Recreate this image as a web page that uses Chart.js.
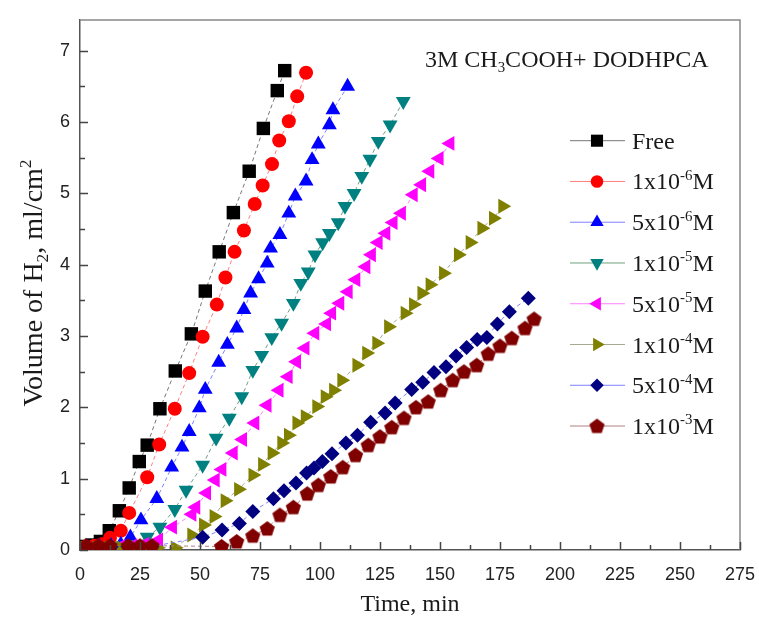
<!DOCTYPE html>
<html>
<head>
<meta charset="utf-8">
<script src="https://cdn.jsdelivr.net/npm/chart.js@4.4.0/dist/chart.umd.min.js"></script>
<style>
  html, body { margin: 0; padding: 0; background: #fff; }
  #wrap { width: 759px; height: 621px; }
</style>
</head>
<body>
<div id="wrap"><canvas id="h2Chart" width="759" height="621"></canvas></div>
<script>
// hydrogen evolution: time (min) vs H2 volume (ml/cm2) per inhibitor concentration
const tFree = [2, 5, 8.5, 12.2, 16.4, 20.5, 24.7, 28, 33.3, 39.7, 46.4, 52.2, 58, 63.9, 70.5, 76.4, 82.2, 85.3];
const vFree = [0.05, 0.07, 0.12, 0.27, 0.55, 0.87, 1.24, 1.47, 1.98, 2.51, 3.03, 3.63, 4.18, 4.73, 5.31, 5.91, 6.44, 6.72];

const t1e6 = [2, 6, 9, 12.5, 17, 20.5, 28, 33, 39.5, 45.5, 51.1, 57, 60.6, 64.4, 68.3, 72.8, 76.1, 80, 83, 87, 90.5, 94.2];
const v1e6 = [0.04, 0.06, 0.08, 0.17, 0.27, 0.52, 1.02, 1.48, 1.98, 2.48, 2.99, 3.44, 3.82, 4.18, 4.48, 4.85, 5.11, 5.41, 5.74, 6.01, 6.36, 6.69];

const t5e6 = [3, 8, 13, 17, 21, 25.4, 32, 38.2, 42.5, 45.5, 49.7, 52.2, 57.8, 61.4, 65.3, 68.3, 71.1, 74.4, 78, 79.4, 83.3, 87, 89.7, 94.2, 96.7, 99.3, 103.9, 105.4, 111.5];
const v5e6 = [0.03, 0.05, 0.06, 0.08, 0.18, 0.42, 0.72, 1.16, 1.44, 1.66, 1.99, 2.25, 2.63, 2.88, 3.11, 3.37, 3.6, 3.8, 4.02, 4.23, 4.42, 4.72, 4.96, 5.17, 5.47, 5.69, 5.96, 6.17, 6.5];

const t1e5 = [3, 8, 13, 18, 23, 28, 33.3, 39.5, 44.2, 51.1, 56.7, 62.2, 67.4, 72, 75.7, 79.9, 84, 88.9, 92, 95.1, 97.9, 101.1, 103.9, 107.6, 110.4, 114.2, 117.4, 120.8, 124.3, 129.2, 134.7];
const v1e5 = [0.03, 0.04, 0.05, 0.06, 0.08, 0.18, 0.32, 0.57, 0.84, 1.19, 1.57, 1.85, 2.15, 2.52, 2.73, 2.98, 3.18, 3.46, 3.74, 3.9, 4.14, 4.31, 4.44, 4.59, 4.82, 5.0, 5.24, 5.48, 5.73, 5.96, 6.29];

const t5e5 = [2, 7, 12, 17, 22, 27, 32.8, 38.6, 46.7, 48.3, 52.8, 56.4, 59.2, 63.9, 67.8, 72.9, 78, 83, 86.8, 90.3, 93.8, 97.9, 102.8, 104.9, 108.3, 111.8, 115, 119.2, 121.5, 124.3, 127.5, 130.5, 134, 138.9, 142.4, 145.8, 149.7, 154.2];
const v5e5 = [0.04, 0.04, 0.05, 0.05, 0.06, 0.08, 0.14, 0.32, 0.5, 0.6, 0.8, 0.98, 1.13, 1.36, 1.55, 1.78, 2.03, 2.24, 2.43, 2.64, 2.83, 3.04, 3.17, 3.32, 3.46, 3.62, 3.79, 3.97, 4.14, 4.31, 4.44, 4.59, 4.72, 4.98, 5.12, 5.31, 5.49, 5.7];

const t1e4 = [2, 7, 12, 17, 22, 27, 32, 39.6, 46.5, 51.4, 55.8, 60.4, 66, 72, 76, 80, 84, 86.8, 90.3, 93.8, 98.6, 102.1, 105.6, 109, 115.3, 119.4, 123.6, 128.5, 135.4, 138.9, 142.4, 145.8, 151.4, 157.6, 162.5, 167.4, 172.2, 176.1];
const v1e4 = [0.03, 0.03, 0.03, 0.03, 0.03, 0.03, 0.03, 0.03, 0.21, 0.35, 0.47, 0.69, 0.85, 1.05, 1.2, 1.36, 1.5, 1.61, 1.78, 1.87, 2.01, 2.15, 2.24, 2.38, 2.59, 2.76, 2.9, 3.13, 3.32, 3.44, 3.6, 3.72, 3.88, 4.14, 4.31, 4.51, 4.65, 4.82];

const t5e4 = [3, 8, 13, 20, 25, 30, 51.1, 59.2, 66.4, 72, 80.6, 85, 90, 94.4, 97.5, 101, 105, 110.8, 115.6, 121.1, 127.1, 131.3, 138.2, 142.8, 147.5, 152.5, 156.7, 161.1, 165.5, 169.5, 173.9, 178.9, 186.8];
const v5e4 = [0.05, 0.05, 0.05, 0.05, 0.05, 0.05, 0.18, 0.28, 0.37, 0.54, 0.72, 0.83, 0.94, 1.08, 1.15, 1.24, 1.35, 1.5, 1.61, 1.79, 1.92, 2.06, 2.25, 2.35, 2.49, 2.57, 2.72, 2.84, 2.95, 2.98, 3.17, 3.34, 3.53];

const t1e3 = [2.5, 7.6, 12.5, 20.1, 25, 30, 59, 65.3, 72, 78, 83.3, 88.9, 94.7, 99.3, 104.5, 109.5, 114.8, 120.1, 125, 129.9, 135, 140, 145.1, 150.3, 155.3, 160, 165.3, 170.1, 175, 179.9, 185.4, 189.2];
const v1e3 = [0.06, 0.06, 0.06, 0.06, 0.06, 0.06, 0.05, 0.12, 0.2, 0.3, 0.49, 0.6, 0.79, 0.91, 1.03, 1.16, 1.33, 1.47, 1.59, 1.72, 1.85, 2.0, 2.08, 2.24, 2.38, 2.5, 2.59, 2.75, 2.86, 2.97, 3.11, 3.24];

const seriesLabels = ['Free', '1x10^{-6}M', '5x10^{-6}M', '1x10^{-5}M', '5x10^{-5}M', '1x10^{-4}M', '5x10^{-4}M', '1x10^{-3}M'];
const xTicks = [0, 25, 50, 75, 100, 125, 150, 175, 200, 225, 250, 275];
const yTicks = [0, 1, 2, 3, 4, 5, 6, 7];
const plotTitle = '3M CH_{3}COOH+ DODHPCA';
const yTitle = 'Volume of H_{2}, ml/cm^{2}';

const SERIF = '"Liberation Serif", "Times New Roman", serif';

// pentagon marker, drawn once on a small canvas
function pentagonMarker(color) {
  const c = document.createElement('canvas');
  c.width = 17; c.height = 17;
  const g = c.getContext('2d');
  g.fillStyle = color;
  g.beginPath();
  for (let k = 0; k < 5; k++) {
    const a = -Math.PI / 2 + k * 2 * Math.PI / 5;
    const px = 8.5 + 8 * Math.cos(a), py = 9.1 + 8 * Math.sin(a);
    if (k === 0) g.moveTo(px, py); else g.lineTo(px, py);
  }
  g.closePath();
  g.fill();
  return c;
}

function series(xs, ys, color, lineColor, style, radius, rotation, order) {
  return {
    data: xs.map((t, i) => ({ x: t, y: ys[i] })),
    showLine: true,
    borderColor: lineColor,
    borderWidth: 1,
    borderDash: [4, 3],
    backgroundColor: color,
    pointBackgroundColor: color,
    pointBorderColor: color,
    pointBorderWidth: 0,
    pointStyle: style,
    pointRadius: radius,
    pointRotation: rotation,
    order: order
  };
}

const datasets = [
  series(tFree, vFree, '#000000', '#777777', 'rect', 9.5, 0, 8),
  series(t1e6, v1e6, '#ff0000', '#ff8080', 'circle', 7, 0, 7),
  series(t5e6, v5e6, '#0000ff', '#8080ff', 'triangle', 8.6, 0, 6),
  series(t1e5, v1e5, '#008080', '#70a080', 'triangle', 8.6, 180, 5),
  series(t5e5, v5e5, '#ff00ff', '#ff80ff', 'triangle', 8.6, -90, 4),
  series(t1e4, v1e4, '#808000', '#a8a890', 'triangle', 8.6, 90, 3),
  series(t5e4, v5e4, '#000080', '#8080ff', 'rectRot', 7.5, 0, 2),
  series(t1e3, v1e3, '#800000', '#b08080', pentagonMarker('#800000'), 7.5, 0, 1)
];

// text with _{sub} and ^{sup} pieces
function drawRich(ctx, text, x, y, size, measureOnly) {
  const parts = text.split(/([_^]\{[^}]*\})/);
  let cx = x;
  parts.forEach(p => {
    if (!p) return;
    let s = size, dy = 0, str = p;
    if (p[0] === '^') { s = size * 0.62; dy = -size * 0.4; str = p.slice(2, -1); }
    else if (p[0] === '_') { s = size * 0.62; dy = size * 0.22; str = p.slice(2, -1); }
    ctx.font = s + 'px ' + SERIF;
    if (!measureOnly) ctx.fillText(str, cx, y + dy);
    cx += ctx.measureText(str).width;
  });
  return cx - x;
}

const decorations = {
  id: 'decorations',
  afterDraw(chart) {
    const ctx = chart.ctx;
    const area = chart.chartArea;
    const xs = chart.scales.x, ys = chart.scales.y;
    ctx.save();

    // frame on top and right
    ctx.strokeStyle = '#888';
    ctx.lineWidth = 1.5;
    ctx.beginPath();
    ctx.moveTo(area.left, area.top);
    ctx.lineTo(area.right, area.top);
    ctx.lineTo(area.right, area.bottom);
    ctx.stroke();

    // inward tick marks, minor ones halfway
    ctx.strokeStyle = '#444';
    ctx.lineWidth = 1.5;
    ctx.beginPath();
    for (let v = 0; v <= 275; v += 12.5) {
      const px = Math.round(xs.getPixelForValue(v)) + 0.5;
      const len = v % 25 === 0 ? 8 : 5;
      ctx.moveTo(px, area.bottom);
      ctx.lineTo(px, area.bottom - len);
    }
    for (let v = 0; v <= 7; v += 0.5) {
      const py = Math.round(ys.getPixelForValue(v)) + 0.5;
      const len = v % 1 === 0 ? 8 : 5;
      ctx.moveTo(area.left, py);
      ctx.lineTo(area.left + len, py);
    }
    ctx.stroke();

    ctx.fillStyle = '#1a1a1a';
    ctx.textBaseline = 'alphabetic';
    ctx.textAlign = 'left';

    // plot title
    drawRich(ctx, plotTitle, 425, 67, 24);

    // y axis title, rotated
    const w = drawRich(ctx, yTitle, 0, 0, 28, true);
    ctx.save();
    ctx.translate(42, (area.top + area.bottom) / 2 - 2 + w / 2);
    ctx.rotate(-Math.PI / 2);
    drawRich(ctx, yTitle, 0, 0, 28);
    ctx.restore();

    // legend: line, marker, label
    chart.data.datasets.forEach((ds, i) => {
      const y = 140.7 + i * 40.76;
      ctx.strokeStyle = ds.borderColor;
      ctx.lineWidth = 1;
      ctx.setLineDash([]);
      ctx.beginPath();
      ctx.moveTo(570, y);
      ctx.lineTo(625, y);
      ctx.stroke();
      ctx.fillStyle = ds.pointBackgroundColor;
      ctx.strokeStyle = ds.pointBorderColor;
      Chart.helpers.drawPoint(ctx, {
        pointStyle: ds.pointStyle,
        rotation: ds.pointRotation,
        radius: ds.pointRadius * 0.9,
        borderWidth: 0
      }, 597, y);
      ctx.fillStyle = '#1a1a1a';
      drawRich(ctx, seriesLabels[i], 632, y + 8, 24);
    });

    ctx.restore();
  }
};

const tickFont = { family: '"Liberation Sans", Arial, sans-serif', size: 18 };

new Chart(document.getElementById('h2Chart').getContext('2d'), {
  type: 'scatter',
  data: { datasets: datasets },
  plugins: [decorations],
  options: {
    responsive: false,
    animation: false,
    devicePixelRatio: 1,
    layout: { padding: { top: 20, right: 19, left: 0, bottom: 0 } },
    plugins: { legend: { display: false }, tooltip: { enabled: false } },
    scales: {
      x: {
        type: 'linear',
        min: 0,
        max: 275,
        afterBuildTicks: s => { s.ticks = xTicks.map(v => ({ value: v })); },
        afterFit: s => { s.height = 71; s.paddingLeft = 0; s.paddingRight = 0; },
        ticks: { font: tickFont, color: '#222', padding: 14, maxRotation: 0, autoSkip: false },
        grid: { display: false, drawTicks: false },
        border: { color: '#555', width: 1.5 },
        title: { display: true, text: 'Time, min', color: '#1a1a1a', font: { family: SERIF, size: 24 }, padding: { top: 0, bottom: 2 } }
      },
      y: {
        type: 'linear',
        min: 0,
        max: 7.43,
        afterBuildTicks: s => { s.ticks = yTicks.map(v => ({ value: v })); },
        afterFit: s => { s.width = 80; s.paddingTop = 0; s.paddingBottom = 0; },
        ticks: { font: tickFont, color: '#222', padding: 10 },
        grid: { display: false, drawTicks: false },
        border: { color: '#555', width: 1.5 }
      }
    }
  }
});
</script>
</body>
</html>
